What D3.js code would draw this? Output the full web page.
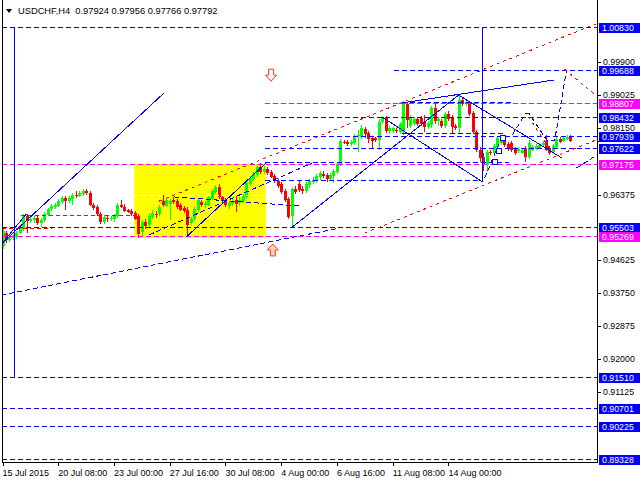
<!DOCTYPE html>
<html><head><meta charset="utf-8">
<script src="https://cdn.jsdelivr.net/npm/d3@7"></script>
<style>
body{margin:0;background:#fff}
svg{display:block}
text{font-family:"Liberation Sans",Arial,sans-serif;font-size:9px}
</style>
</head><body><svg id="c" width="640" height="480"></svg>
<script>
const symbol = "USDCHF,H4";
const opens = [
.9501,.9535,.9517,.9522,.9524,.9535,.9546,.9580,.9567,.9570,
.9575,.9562,.9570,.9583,.9599,.9604,.9607,.9618,.9628,.9620,
.9626,.9636,.9634,.9639,.9647,.9642,.9610,.9604,.9586,.9564,
.9575,.9572,.9572,.9580,.9610,.9604,.9596,.9594,.9588,.9580,
.9538,.9564,.9556,.9578,.9586,.9586,.9620,.9607,.9612,.9623,
.9620,.9610,.9602,.9596,.9562,.9572,.9596,.9618,.9610,.9610,
.9626,.9644,.9657,.9631,.9623,.9607,.9612,.9623,.9615,.9620,
.9631,.9665,.9679,.9689,.9711,.9697,.9705,.9697,.9687,.9673,
.9665,.9647,.9626,.9580,.9652,.9665,.9652,.9647,.9663,.9671,
.9673,.9684,.9692,.9689,.9679,.9687,.9697,.9716,.9777,.9777,
.9772,.9775,.9793,.9790,.9812,.9801,.9788,.9788,.9782,.9830,
.9841,.9806,.9806,.9809,.9804,.9804,.9878,.9820,.9825,.9838,
.9841,.9830,.9817,.9822,.9868,.9833,.9833,.9820,.9852,.9844,
.9820,.9814,.9889,.9878,.9881,.9854,.9804,.9756,.9737,.9716,
.9751,.9748,.9764,.9775,.9780,.9772,.9775,.9759,.9753,.9748,
.9761,.9737,.9756,.9759,.9761,.9769,.9780,.9761,.9751,.9764,
.9785,.9780,.9785,.97924];
const highs = [
.9546,.9540,.9530,.9532,.9540,.9554,.9586,.9586,.9578,.9580,
.9580,.9575,.9591,.9602,.9612,.9615,.9626,.9634,.9634,.9634,
.9642,.9647,.9647,.9652,.9652,.9647,.9615,.9610,.9591,.9583,
.9580,.9580,.9586,.9615,.9623,.9612,.9599,.9599,.9594,.9586,
.9570,.9572,.9586,.9596,.9594,.9610,.9636,.9628,.9626,.9631,
.9626,.9615,.9607,.9604,.9578,.9604,.9628,.9623,.9620,.9636,
.9652,.9663,.9665,.9636,.9628,.9620,.9628,.9634,.9631,.9639,
.9673,.9687,.9697,.9719,.9721,.9713,.9711,.9703,.9692,.9679,
.9671,.9652,.9631,.9657,.9660,.9673,.9660,.9671,.9679,.9684,
.9692,.9700,.9700,.9695,.9695,.9705,.9724,.9785,.9782,.9782,
.9782,.9798,.9809,.9822,.9817,.9806,.9793,.9790,.9838,.9846,
.9846,.9820,.9817,.9814,.9830,.9886,.9884,.9849,.9844,.9844,
.9846,.9849,.9833,.9873,.9881,.9844,.9838,.9857,.9860,.9849,
.9825,.9905,.9897,.9892,.9886,.9860,.9809,.9764,.9748,.9756,
.9756,.9772,.9793,.9790,.9790,.9777,.9780,.9764,.9764,.9761,
.9767,.9782,.9769,.9772,.9775,.9780,.9796,.9767,.9772,.9790,
.9790,.9793,.9796,.97956];
const lows = [
.9493,.9509,.9511,.9517,.9519,.9532,.9540,.9535,.9562,.9562,
.9556,.9551,.9564,.9580,.9594,.9599,.9604,.9612,.9596,.9615,
.9610,.9628,.9631,.9634,.9636,.9607,.9596,.9580,.9559,.9559,
.9564,.9567,.9564,.9575,.9602,.9591,.9588,.9580,.9570,.9522,
.9527,.9546,.9551,.9572,.9575,.9580,.9604,.9604,.9570,.9612,
.9599,.9594,.9588,.9524,.9556,.9567,.9591,.9604,.9602,.9607,
.9623,.9639,.9626,.9615,.9604,.9599,.9607,.9591,.9607,.9615,
.9626,.9660,.9673,.9684,.9692,.9692,.9689,.9681,.9668,.9655,
.9639,.9618,.9572,.9548,.9639,.9644,.9639,.9642,.9655,.9665,
.9668,.9676,.9681,.9671,.9673,.9668,.9692,.9713,.9772,.9767,
.9767,.9769,.9751,.9785,.9788,.9775,.9759,.9777,.9756,.9825,
.9801,.9798,.9801,.9801,.9798,.9796,.9814,.9814,.9820,.9820,
.9820,.9804,.9812,.9814,.9825,.9820,.9814,.9814,.9833,.9801,
.9809,.9801,.9873,.9873,.9846,.9798,.9751,.9724,.9700,.9703,
.9743,.9743,.9759,.9769,.9764,.9753,.9751,.9743,.9748,.9745,
.9724,.9732,.9753,.9756,.9759,.9764,.9753,.9743,.9745,.9759,
.9775,.9777,.9782,.97766];
const closes = [
.9540,.9517,.9524,.9527,.9535,.9548,.9580,.9567,.9572,.9575,
.9562,.9570,.9586,.9599,.9607,.9610,.9620,.9628,.9620,.9628,
.9636,.9634,.9642,.9647,.9642,.9610,.9602,.9586,.9564,.9578,
.9572,.9575,.9580,.9610,.9604,.9594,.9591,.9586,.9572,.9532,
.9564,.9554,.9580,.9588,.9583,.9604,.9610,.9623,.9620,.9618,
.9604,.9596,.9594,.9556,.9572,.9599,.9623,.9610,.9615,.9631,
.9647,.9657,.9631,.9620,.9610,.9615,.9620,.9612,.9623,.9634,
.9668,.9681,.9692,.9711,.9697,.9705,.9695,.9684,.9673,.9660,
.9644,.9623,.9578,.9652,.9644,.9650,.9647,.9665,.9673,.9676,
.9687,.9695,.9687,.9679,.9689,.9700,.9719,.9780,.9775,.9772,
.9777,.9793,.9796,.9814,.9798,.9785,.9780,.9782,.9830,.9841,
.9806,.9814,.9814,.9806,.9825,.9878,.9836,.9841,.9838,.9825,
.9825,.9817,.9828,.9868,.9833,.9838,.9820,.9852,.9838,.9817,
.9814,.9889,.9878,.9884,.9852,.9804,.9756,.9735,.9716,.9751,
.9748,.9767,.9788,.9782,.9769,.9759,.9756,.9748,.9759,.9756,
.9737,.9775,.9764,.9767,.9769,.9775,.9756,.9748,.9767,.9785,
.9777,.9788,.9790,.97792];

const timeLabels = ["15 Jul 2015","20 Jul 08:00","23 Jul 00:00","27 Jul 16:00","30 Jul 08:00","4 Aug 00:00","6 Aug 16:00","11 Aug 08:00","14 Aug 00:00"];
const timeLabelBars = [0,16,32,48,64,80,96,112,128];
const priceTicks = [0.99900,0.99025,0.98150,0.96375,0.94625,0.93750,0.92875,0.92000,0.91125];

const levelPrices = [1.00830,0.99688,0.98807,0.98432,0.97939,0.97622,0.97175,0.95503,0.95269,0.91510,0.90701,0.90225,0.89328];
const levelColors = ["b","b","m","b","b","b","m","b","m","b","b","b","b"];
const levelFrom   = [null,112.3,75.4,75.4,75.4,75.4,null,null,null,null,null,null,null];

const shortSegs = [
  [75.4,137.2,0.9676,"b"],[114.6,146.1,0.9884,"b"],[114.6,143.8,0.9801,"b"],[75.4,145.3,0.9724,"b"],
  [5.4,37.8,0.9583,"r"],[null,14.3,0.9548,"r"],[37.8,75.4,0.9636,"w"]
];
const solidLines = [
  [[0,0.9509],[46.4,0.9908]],
  [[1.15,0.9522],[6.9,0.9586]],
  [[52.7,0.9524],[75.6,0.9721]],
  [[82.8,0.9548],[130.9,0.9902]],
  [[108.9,0.9844],[137.8,0.9671]],
  [[114.6,0.9881],[158.2,0.9942]],
  [[130.9,0.9902],[160.5,0.9735]],
  [[3.44,1.0083],[3.44,0.9151]],
  [[137.8,1.0083],[137.8,0.9671]]
];
const dashedBlue = [
  [[-0.3,0.9370],[96.6,0.9548]],
  [[42.1,0.9530],[88.8,0.9721]],
  [[49.3,0.9631],[85.1,0.9607]],
  [[138.4,0.9681],[143.3,0.9790],[146.1,0.9793],[150.1,0.9852],[151.2,0.9852],[156.2,0.9782],[158.5,0.9782],[161.9,0.9969]],
  [[164.8,0.9708],[170.2,0.9740]]
];
const dottedRed = [
  [[45.0,0.9620],[170.2,1.00911]],
  [[104.0,0.9535],[170.2,0.9782]],
  [[161.3,0.9971],[170.2,0.9902]],
  [[151.0,0.9844],[157.6,0.9751]]
];
const squares = [[141.0,0.9727],[142.1,0.9756],[143.3,0.9790]];
const boxRange = {from:37.8,to:75.6,top:0.9719,bottom:0.9522};
const downArrow = [77.1,0.9955];
const upArrow = [77.6,0.9490];

const svg = d3.select("#c");
const L = 2, R = 597, B = 462;
const xs = d3.scaleLinear().domain([0,163]).range([2.5, 2.5+163*3.484]);
const ys = d3.scaleLinear().domain([0.999,0.920]).range([62, 62+0.079*3759]);
const col = {b:"#0000ff", m:"#ff00ff", r:"#ff0000", w:"#ffffff"};

svg.append("defs").append("clipPath").attr("id","plot")
  .append("rect").attr("x",L).attr("y",0).attr("width",R-L).attr("height",B);
const g = svg.append("g").attr("clip-path","url(#plot)");

g.append("rect").attr("x",xs(boxRange.from)).attr("y",ys(boxRange.top))
  .attr("width",xs(boxRange.to)-xs(boxRange.from)).attr("height",ys(boxRange.bottom)-ys(boxRange.top))
  .attr("fill","#ffff00");

const n = closes.length;
const cg = g.append("g").attr("shape-rendering","crispEdges");
for (let i=0;i<n;i++){
  const up = closes[i] >= opens[i];
  const c = up ? "#00ff00" : "#ff0000";
  const cx = Math.round(xs(i));
  cg.append("line").attr("x1",cx+0.5).attr("x2",cx+0.5).attr("y1",ys(highs[i])).attr("y2",ys(lows[i])).attr("stroke",c);
  const y1 = ys(Math.max(opens[i],closes[i])), y2 = ys(Math.min(opens[i],closes[i]));
  cg.append("rect").attr("x",cx-1).attr("width",3).attr("y",Math.round(y1)).attr("height",Math.max(1,Math.round(y2)-Math.round(y1))).attr("fill",c);
}

const lg = g.append("g").attr("fill","none").attr("shape-rendering","crispEdges");
levelPrices.forEach((p,k)=>{
  const y = Math.round(ys(p))+0.5;
  lg.append("line").attr("x1",levelFrom[k]==null?L:xs(levelFrom[k])).attr("x2",R)
    .attr("y1",y).attr("y2",y).attr("stroke",col[levelColors[k]]).attr("stroke-dasharray","5,3");
});
shortSegs.forEach(s=>{
  const y = Math.round(ys(s[2]))+0.5;
  lg.append("line").attr("x1",s[0]==null?L:xs(s[0])).attr("x2",s[1]==null?R:xs(s[1]))
    .attr("y1",y).attr("y2",y).attr("stroke",col[s[3]]).attr("stroke-dasharray",s[3]==="r"?"4,3":"5,3");
});
const path = d3.line().x(d=>xs(d[0])).y(d=>ys(d[1]));
solidLines.forEach(s=> lg.append("path").attr("d",path(s)).attr("stroke","#0000ff"));
dashedBlue.forEach(s=> lg.append("path").attr("d",path(s)).attr("stroke","#0000ff").attr("stroke-dasharray","5,3"));
dottedRed.forEach(s=> lg.append("path").attr("d",path(s)).attr("stroke","#ff0000").attr("stroke-dasharray","3,4"));
squares.forEach(s=> lg.append("rect").attr("x",Math.round(xs(s[0]))-2).attr("y",Math.round(ys(s[1]))-2)
  .attr("width",5).attr("height",5).attr("fill","#fff").attr("stroke","#0000ff"));

g.append("path").attr("transform",`translate(${xs(downArrow[0])},${ys(downArrow[1])})`)
  .attr("d","M-2.5,-6L2.5,-6L2.5,0L5.5,0L0,6L-5.5,0L-2.5,0Z").attr("fill","#fff").attr("stroke","#ff3030");
g.append("path").attr("transform",`translate(${xs(upArrow[0])},${ys(upArrow[1])})`)
  .attr("d","M-2.5,6L2.5,6L2.5,0L5.5,0L0,-6L-5.5,0L-2.5,0Z").attr("fill","#ffd0c0").attr("stroke","#ff4020");

const fg = svg.append("g").attr("shape-rendering","crispEdges").attr("stroke","#000");
fg.append("line").attr("x1",L+0.5).attr("x2",L+0.5).attr("y1",0).attr("y2",B);
fg.append("line").attr("x1",R+0.5).attr("x2",R+0.5).attr("y1",0).attr("y2",B+1);
fg.append("line").attr("x1",L).attr("x2",R+1).attr("y1",B+0.5).attr("y2",B+0.5);

priceTicks.forEach(p=>{
  const y = Math.round(ys(p))+0.5;
  fg.append("line").attr("x1",R).attr("x2",R+4).attr("y1",y).attr("y2",y);
  svg.append("text").attr("x",603).attr("y",ys(p)+3).attr("fill","#000").style("font-size","8.8px").text(p.toFixed(5));
});
fg.append("line").attr("x1",R).attr("x2",640).attr("y1",Math.round(ys(closes[n-1]))+0.5).attr("y2",Math.round(ys(closes[n-1]))+0.5);
levelPrices.forEach((p,k)=>{
  const y = Math.round(ys(p));
  svg.append("rect").attr("x",599).attr("y",y-4).attr("width",41).attr("height",10).attr("fill",col[levelColors[k]]).attr("shape-rendering","crispEdges");
  svg.append("text").attr("x",602).attr("y",y+4.3).attr("fill","#fff").style("font-size","8.8px").text(p.toFixed(5));
});

timeLabelBars.forEach((b,k)=>{
  const x = Math.round(xs(b))+0.5;
  fg.append("line").attr("x1",x).attr("x2",x).attr("y1",B).attr("y2",B+4);
  svg.append("text").attr("x",xs(b)).attr("y",475.5).attr("fill","#000").text(timeLabels[k]);
});

svg.append("path").attr("d","M6,9L12,9L9,13Z").attr("fill","#000");
const f5 = v=>v.toFixed(5);
svg.append("text").attr("x",18).attr("y",13.5).attr("fill","#000").style("white-space","pre").style("font-size","9.3px")
  .text(`${symbol}  ${f5(opens[n-1])} ${f5(highs[n-1])} ${f5(lows[n-1])} ${f5(closes[n-1])}`);
</script>
</body></html>
